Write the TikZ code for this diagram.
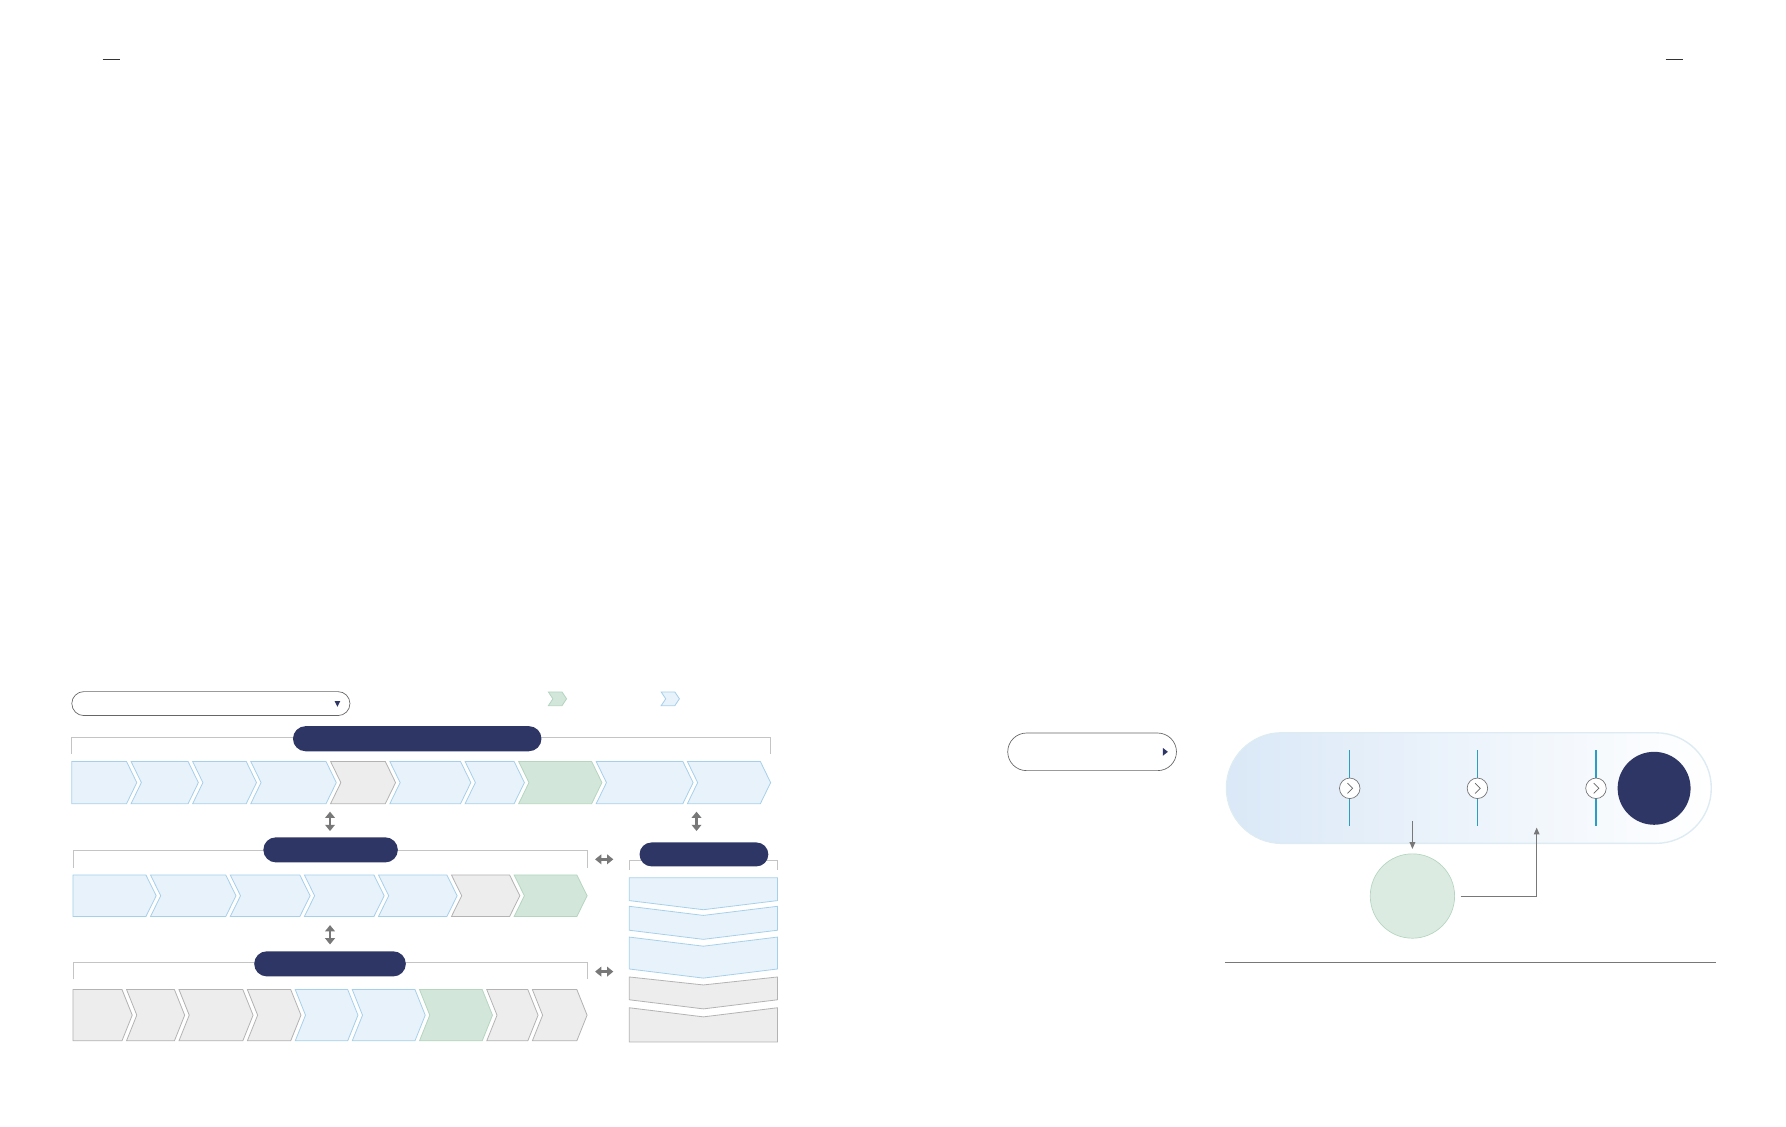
\documentclass[tikz,border=0pt]{standalone}
\usepackage{tikz}
\usetikzlibrary{shapes.misc,% rounded rectangle nodes (pills)
arrows.meta}%               triangle arrow tips
\definecolor{navy}{HTML}{2E3666}
\definecolor{bluefill}{HTML}{E8F2FB}
\definecolor{blueline}{HTML}{A6D0EA}
\definecolor{greyfill}{HTML}{EDEDED}
\definecolor{greyline}{HTML}{B3B3B3}
\definecolor{greenfill}{HTML}{D3E6DA}
\definecolor{greenline}{HTML}{B5D5C1}
\definecolor{rule}{HTML}{C4C4C4}
\definecolor{arrowgrey}{HTML}{787878}
\definecolor{flowblue}{HTML}{DAE8F7}
\definecolor{flowedge}{HTML}{DDEBF3}
\definecolor{tealline}{HTML}{2A9CC6}
\tikzset{chev/.style={fill=#1fill,draw=#1line,line width=0.7pt},
  bracket/.style={draw=rule,line width=0.8pt},
  navypill/.style={rounded rectangle,fill=navy,inner sep=0pt,minimum height=22pt},
  picker/.style={rounded rectangle,draw=black!60,line width=0.6pt,inner sep=0pt},
  updown/.style={arrowgrey,line width=2.2pt,>={Triangle[length=5.5pt,width=8.5pt]},<->},
  link/.style={arrowgrey,line width=0.9pt,->,>={Triangle[length=6pt,width=5pt]}},
  stepmark/.style={circle,fill=white,draw=black!55,line width=0.6pt,
    minimum size=18pt,inner sep=0pt}}
\newcommand{\tipd}{9}
% [notch] colour, left, right, top, bottom
\newcommand{\chev}[6][9]{%
  \draw[chev=#2] (#3,#5) -- (#4,#5) -- (#4+\tipd,{(#5+#6)/2}) -- (#4,#6)
    -- (#3,#6) -- (#3+#1,{(#5+#6)/2}) -- cycle}
% colour, top, top notch, bottom, bottom tip
\newcommand{\vchev}[5]{%
  \draw[chev=#1] (552,#2) -- (617,#2+#3) -- (682,#2) -- (682,#4)
    -- (617,#4+#5) -- (552,#4) -- cycle}

\begin{document}
\begin{tikzpicture}[x=1pt,y=-1pt]
  \useasboundingbox (0,0) rectangle (1566.7,988.6);
  \draw[black!80,line width=1pt] (90,52) -- (105,52);
  \draw[black!80,line width=1pt] (1461,52) -- (1476,52);
  % selector and legend
  \node[picker,minimum width=244pt,minimum height=21pt] (picker) at (185,617.2) {};
  \fill[navy] (293.5,615) -- (298.5,615) -- (296,620) -- cycle;
  {\renewcommand{\tipd}{4}
   \chev[4]{green}{481}{493}{607}{619};
   \chev[4]{blue}{580}{592}{607}{619};}
  % lane 1
  \draw[bracket] (63,661) |- (676,647) -- (676,661);
  \node[navypill,minimum width=218pt] (laneA) at (366,648) {};
  \foreach \nt/\xl/\xr/\col in {0/63/111/blue,9/115/165/blue,9/169/216/blue,
    9/220/286/blue,9/290/338/grey,9/342/404/blue,9/408/451/blue,
    9/455/519/green,9/523/599/blue,9/603/667/blue}
    \chev[\nt]{\col}{\xl}{\xr}{668}{705};
  % lane 2
  \draw[bracket] (64,761) |- (515,746) -- (515,761);
  \node[navypill,minimum width=118pt] (laneB) at (290,745.5) {};
  \foreach \nt/\xl/\xr/\col in {0/64/128/blue,9/132/198/blue,9/202/263/blue,
    9/267/328/blue,9/332/392/blue,9/396/447/grey,9/451/506/green}
    \chev[\nt]{\col}{\xl}{\xr}{767.5}{804};
  % lane 3
  \draw[bracket] (64,859) |- (515,844.5) -- (515,859);
  \node[navypill,minimum width=133pt] (laneC) at (289.5,845.5) {};
  \foreach \nt/\xl/\xr/\col in {0/64/107/grey,9/111/153/grey,9/157/213/grey,
    9/217/255/grey,9/259/305/blue,9/309/364/blue,9/368/423/green,
    9/427/463/grey,9/467/506/grey}
    \chev[\nt]{\col}{\xl}{\xr}{868}{913};
  % side stack
  \draw[bracket] (552,763) |- (682,755) -- (682,763);
  \node[navypill,minimum width=113pt,minimum height=21pt] (laneR) at (617.5,749.5) {};
  \foreach \t/\p/\b/\q/\col in {770/0/790/8/blue,795/8/816/8/blue,
    822/8/850/8/blue,857/7/877/8/grey,884/8/914/0/grey}
    \vchev{\col}{\t}{\p}{\b}{\q};
  \foreach \x/\y in {289.5/712,611/712,289.5/811.5}
    \draw[updown] (\x,\y) -- (\x,\y+17);
  \foreach \y in {753.8,852.3}
    \draw[updown] (522,\y) -- (538,\y);
  % right page
  \node[picker,minimum width=148pt,minimum height=33pt] (toggle) at (958,659.5) {};
  \fill[navy] (1020,656) -- (1024.5,659.5) -- (1020,663) -- cycle;
  \node[rounded rectangle,minimum width=432pt,minimum height=97pt,
    left color=flowblue,right color=white,draw=flowedge,line width=1.2pt] (flow) at (1288.5,691.3) {};
  \foreach \x [count=\i] in {1184,1296,1400} {
    \draw[tealline,line width=1.1pt] (\x,658) -- (\x,725);
    \node[stepmark] (step\i) at (\x,691.5) {};
    \draw[black!60,line width=0.6pt] (\x-2,687) -- (\x+2.5,691.5) -- (\x-2,696);
  }
  \node[circle,fill=navy,minimum size=64pt,inner sep=0pt] (goal) at (1451,691.5) {};
  \node[circle,fill=greenfill!80!white,draw=greenline,line width=0.6pt,
    minimum size=74pt,inner sep=0pt] (review) at (1239,786) {};
  \coordinate (handoff) at (1239,720);
  \coordinate (reentry) at (1348,726);
  \draw[link,shorten >=4pt] (handoff) -- (review);
  \draw[link,shorten <=5pt] (review.east) -| (reentry);
  \draw[arrowgrey,line width=0.9pt] (1074.5,844) -- (1505,844);
\end{tikzpicture}
\end{document}
